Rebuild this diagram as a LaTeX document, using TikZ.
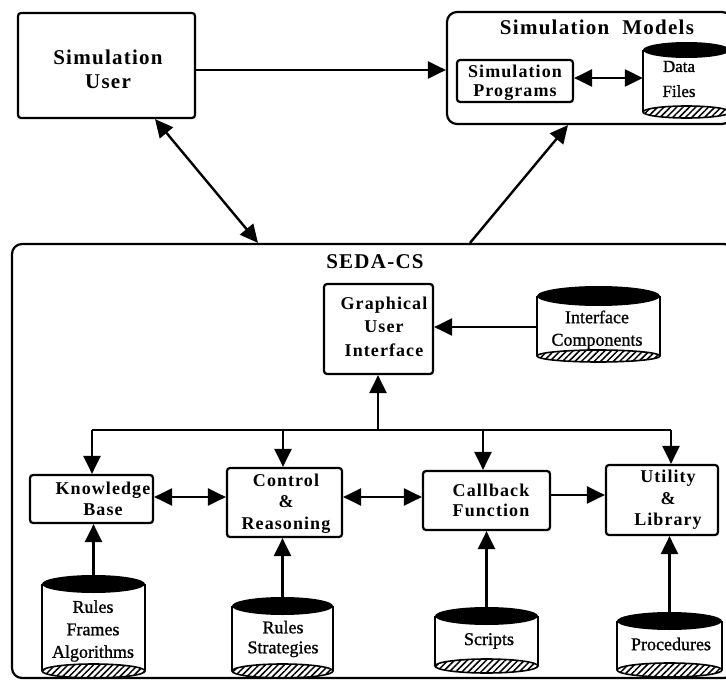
\documentclass[tikz,border=0pt]{standalone}
\usepackage{fontspec}
\setmainfont{Liberation Serif}
\newfontfamily\bxfont[LetterSpace=6]{Liberation Serif}
\newfontfamily\cylfont[FakeBold=1]{Liberation Serif}
\usetikzlibrary{arrows.meta,patterns.meta,calc}
\newcommand{\dbcyl}[7]{% name, xl, xr, top, bottom, ry top, ry bottom
  \pgfmathsetmacro\cylX{(#2+#3)/2}
  \pgfmathsetmacro\cylR{(#3-#2)/2}
  \pgfmathsetmacro\cylY{(#4+#5)/2}
  \pgfmathsetmacro\cylH{#5-#4}
  \pgfmathsetmacro\cylW{#3-#2}
  \pgfmathsetmacro\cylT{#4+#6}
  \pgfmathsetmacro\cylB{#5-#7}
  \draw[hatch] (\cylX,\cylB) ellipse [x radius=\cylR, y radius=#7];
  \draw[line width=2.2pt] (#2,\cylT) -- (#2,\cylB) (#3,\cylT) -- (#3,\cylB);
  \fill (\cylX,\cylT) ellipse [x radius=\cylR, y radius=#6];
  \node[inner sep=0pt, minimum width=\cylW pt, minimum height=\cylH pt] (#1) at (\cylX,\cylY) {};
}
\begin{document}
\begin{tikzpicture}[x=1pt,y=-1pt,
  box/.style={draw, line width=2.2pt, rounded corners=3pt, inner sep=0pt},
  outer/.style={draw, line width=2.2pt, rounded corners=10pt, inner sep=0pt},
  conn/.style={line width=2.4pt, -{Triangle[length=18pt,width=17pt]}},
  dconn/.style={line width=2.4pt, {Triangle[length=18pt,width=17pt]}-{Triangle[length=18pt,width=17pt]}},
  plain/.style={line width=2.4pt},
  lbl/.style={font=\bxfont\bfseries\fontsize{18}{21.5}\selectfont, align=center, inner sep=0pt},
  ttl/.style={font=\bxfont\bfseries\fontsize{21}{24}\selectfont, align=center, inner sep=0pt},
  ctext/.style={font=\cylfont\fontsize{18}{22.5}\selectfont, align=center, inner sep=0pt},
  hatch/.style={line width=1.6pt, pattern={Lines[angle=45,distance=4.5pt,line width=1.5pt]}}
]
\useasboundingbox (0,0) rectangle (726,682);

% top row
\node[box, minimum width=177pt, minimum height=105pt] (user) at (106.5,65.5) {};
\node[ttl] (tuser) at (108,69) {Simulation\\User};

\node[outer, minimum width=285pt, minimum height=112pt] (models) at (589.5,68) {};
\node[ttl] (tmodels) at (597,27) {Simulation~~Models};
\node[box, minimum width=116pt, minimum height=42pt] (prog) at (515,81) {};
\node[lbl, font=\bxfont\bfseries\fontsize{18}{19}\selectfont] (tprog) at (515,82.5) {Simulation\\Programs};
\dbcyl{data}{643}{730}{42}{118}{8}{6}
\node[ctext, font=\cylfont\fontsize{17}{25}\selectfont] (tdata) at (679,79) {Data\\Files};

% SEDA-CS
\node[outer, minimum width=722pt, minimum height=434pt] (seda) at (373,461) {};
\node[ttl] (tseda) at (375,262) {SEDA-CS};

\node[box, minimum width=109pt, minimum height=90pt] (gui) at (378.5,329) {};
\node[lbl, font=\bxfont\bfseries\fontsize{18}{23.5}\selectfont] (tgui) at (384,326.5) {Graphical\\User\\Interface};
\dbcyl{ifc}{537}{660}{286}{362}{10}{6}
\node[ctext] (tifc) at (597,330) {Interface\\Components};

\node[box, minimum width=123pt, minimum height=48pt] (kb) at (91.5,499) {};
\node[lbl] (tkb) at (103,499) {Knowledge\\Base};
\node[box, minimum width=115pt, minimum height=69pt] (cr) at (284.5,502.5) {};
\node[lbl] (tcr) at (286,503.5) {Control\\\&\\Reasoning};
\node[box, minimum width=127pt, minimum height=59pt] (cb) at (486.5,500.5) {};
\node[lbl, font=\bxfont\bfseries\fontsize{18}{20}\selectfont] (tcb) at (491,500) {Callback\\Function};
\node[box, minimum width=112pt, minimum height=70pt] (util) at (662,500) {};
\node[lbl] (tutil) at (668,500) {Utility\\\&\\Library};

\dbcyl{c1}{42}{145}{575}{678}{9}{7}
\node[ctext] (tc1) at (93,631) {Rules\\Frames\\Algorithms};
\dbcyl{c2}{232}{333}{597}{678}{9}{7}
\node[ctext, font=\cylfont\fontsize{18}{20}\selectfont] (tc2) at (283,639) {Rules\\Strategies};
\dbcyl{c3}{435}{538}{607}{673}{9}{7}
\node[ctext] (tc3) at (489,641) {Scripts};
\dbcyl{c4}{617}{722}{612}{677}{9}{7}
\node[ctext] (tc4) at (671,644) {Procedures};

% connectors top
\draw[conn] (user.east |- 0,70) -- (models.west |- 0,70);
\draw[dconn] (prog.east |- 0,78) -- (data.west |- 0,78);
\draw[dconn] (155,0 |- user.south) -- (258,0 |- seda.north);
\draw[conn] (470,0 |- seda.north) -- (568,0 |- models.south);

% internal
\draw[conn] (ifc.west |- 0,327) -- (gui.east |- 0,327);
\coordinate (busL) at (92,430);
\coordinate (busR) at (671,430);
\draw[plain] (busL) -- (busR);
\draw[conn] (378,430) -- (378,0 |- gui.south);
\draw[conn] (busL) -- (busL |- kb.north);
\draw[conn] (283,430) -- (283,0 |- cr.north);
\draw[conn] (483,430) -- (483,0 |- cb.north);
\draw[conn] (busR) -- (busR |- util.north);

\draw[dconn] (kb.east |- 0,497) -- (cr.west |- 0,497);
\draw[dconn] (cr.east |- 0,497) -- (cb.west |- 0,497);
\draw[conn] (cb.east |- 0,495) -- (util.west |- 0,495);

\draw[conn] (c1.north) -- (c1.north |- kb.south);
\draw[conn] (c2.north) -- (c2.north |- cr.south);
\draw[conn] (c3.north) -- (c3.north |- cb.south);
\draw[conn] (c4.north) -- (c4.north |- util.south);
\end{tikzpicture}
\end{document}
